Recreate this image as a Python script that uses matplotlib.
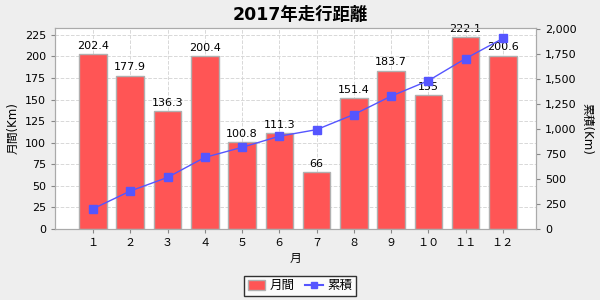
import matplotlib
matplotlib.use("Agg")
import matplotlib.pyplot as plt
from matplotlib.patches import Patch
from matplotlib.lines import Line2D
import numpy as np

plt.rcParams['font.family'] = ['DejaVu Sans', 'Noto Sans CJK JP']

months = ['１', '２', '３', '４', '５', '６', '７', '８', '９', '１０', '１１', '１２']
monthly = [202.4, 177.9, 136.3, 200.4, 100.8, 111.3, 66, 151.4, 183.7, 155, 222.1, 200.6]
monthly_labels = ['202.4', '177.9', '136.3', '200.4', '100.8', '111.3', '66', '151.4',
                  '183.7', '155', '222.1', '200.6']
cumulative = np.cumsum(monthly)

fig = plt.figure(figsize=(6, 3), dpi=100, facecolor='#EEEEEE')
ax = fig.add_axes([55 / 600, 71 / 300, 481 / 600, 201 / 300])
ax.set_facecolor('white')

x = np.arange(len(months))
ax.bar(x, monthly, width=0.74, color='#FF5555', edgecolor='#B0B0B0', linewidth=1, zorder=2)
for xi, v, lab in zip(x, monthly, monthly_labels):
    ax.annotate(lab, (xi, v), xytext=(0, 2.5), textcoords='offset points',
                ha='center', va='bottom', fontsize=8, zorder=5)

ax.set_xlim(-1.02, 11.89)
ax.set_ylim(0, 233)
ax.set_yticks(np.arange(0, 226, 25))
ax.set_xticks(x)
ax.set_xticklabels(months)
ax.grid(True, color='#D8D8D8', linestyle='--', linewidth=0.7, zorder=0)
ax.set_axisbelow(True)
ax.set_ylabel('月間(Km)', fontsize=8.5)
ax.set_xlabel('月', fontsize=8.5, labelpad=3)

ax2 = ax.twinx()
ax2.plot(x, cumulative, color='#5555FF', linewidth=1, marker='s', markersize=6,
         markerfacecolor='#5555FF', markeredgecolor='#5555FF', zorder=4)
ax2.set_ylim(0, 2013)
ax2.set_yticks(np.arange(0, 2001, 250))
ax2.set_yticklabels([f'{v:,}' for v in range(0, 2001, 250)])
ax2.set_ylabel('累積(Km)', fontsize=8.5, rotation=270, labelpad=12)

for a in (ax, ax2):
    a.tick_params(labelsize=8, color='#888888', length=3)
    for s in a.spines.values():
        s.set_color('#AAAAAA')

fig.suptitle('2017年走行距離', fontsize=12.5, fontweight='bold', y=0.98)

handles = [Patch(facecolor='#FF5555', edgecolor='#B0B0B0', label='月間'),
           Line2D([0], [0], color='#5555FF', marker='s', markersize=5, label='累積')]
leg = fig.legend(handles=handles, loc='center', bbox_to_anchor=(0.5, 0.047), ncol=2,
                 fontsize=9, frameon=True, fancybox=False, handlelength=1.4,
                 handleheight=0.9, handletextpad=0.4, columnspacing=0.8, borderpad=0.3)
leg.get_frame().set_edgecolor('black')
leg.get_frame().set_linewidth(1)

fig.savefig('out.png', dpi=100, facecolor=fig.get_facecolor())
